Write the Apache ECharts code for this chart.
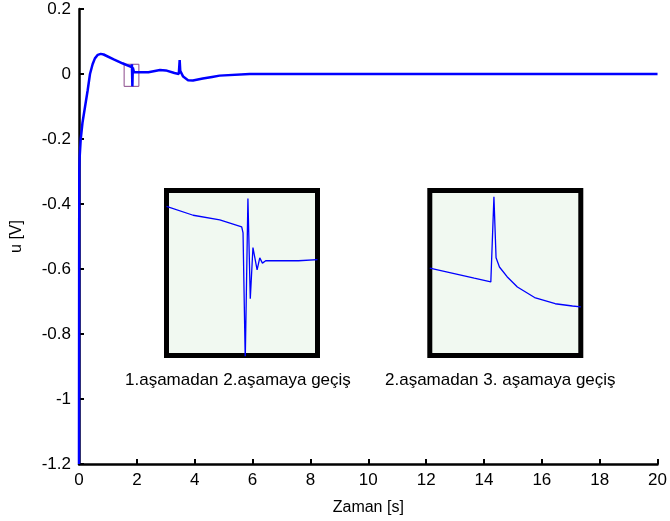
<!DOCTYPE html>
<html>
<head>
<meta charset="utf-8">
<script src="https://cdn.jsdelivr.net/npm/echarts@6/dist/echarts.min.js"></script>
<style>
  html, body { margin: 0; padding: 0; background: #fff; }
  #chart { width: 670px; height: 521px; }
</style>
</head>
<body>
<div id="chart"></div>
<script>
// Control signal u(t) over the whole run: [time s, voltage V]
const mainSignal = [
  [0, -1.2], [0.005, -0.6], [0.01, -0.3], [0.02, -0.26], [0.06, -0.2], [0.12, -0.15],
  [0.21, -0.1], [0.3, -0.05], [0.38, 0.0], [0.47, 0.03], [0.55, 0.048], [0.65, 0.059],
  [0.75, 0.062], [0.85, 0.06], [1.2, 0.045], [1.5, 0.033], [1.82, 0.021],
  [1.83, 0.03], [1.845, -0.038], [1.86, 0.02], [1.9, 0.006], [2.0, 0.0055],
  [2.4, 0.0055], [2.8, 0.012], [3.0, 0.011], [3.3, 0.003], [3.45, 0.0],
  [3.48, 0.043], [3.5, 0.01], [3.6, -0.008], [3.77, -0.019], [3.94, -0.02],
  [4.28, -0.014], [4.6, -0.009], [4.86, -0.005], [4.9, -0.001], [5.9, 0.0],
  [6.0, 0.0], [20, 0.0]
];

// Zoom of the 1st -> 2nd stage switch (around t = 1.84 s)
const stage12Detail = [
  [1.56, 0.0313], [1.65, 0.0275], [1.74, 0.0255], [1.814, 0.0226], [1.8185, 0.020],
  [1.826, -0.034], [1.835, 0.0346], [1.843, -0.0079], [1.852, 0.0138],
  [1.866, 0.0043], [1.875, 0.0094], [1.884, 0.0072], [1.895, 0.0082],
  [2.006, 0.0082], [2.012, 0.0087], [2.07, 0.0087]
];
const stage12Range = { tMin: 1.56, tMax: 2.07, vMin: -0.032, vMax: 0.038 };

// Zoom of the 2nd -> 3rd stage switch (around t = 3.46 s)
const stage23Detail = [
  [3.1, 0.0124], [3.25, 0.0095], [3.35, 0.0075], [3.4435, 0.0057], [3.449, 0.0060],
  [3.461, 0.0469], [3.473, 0.0174], [3.492, 0.0129], [3.535, 0.0082],
  [3.593, 0.0032], [3.69, -0.0019], [3.806, -0.0049], [3.903, -0.006], [3.95, -0.0064]
];
const stage23Range = { tMin: 3.1, tMax: 3.95, vMin: -0.03, vMax: 0.05 };

// Region of the main trace that the first detail view enlarges
const detailBox = [[1.56, 0.03], [2.07, -0.038]];

const insetCaptions = ['1.aşamadan 2.aşamaya geçiş', '2.aşamadan 3. aşamaya geçiş'];
const axisTitles = { x: 'Zaman [s]', y: 'u [V]' };

const FONT = 'Liberation Sans, Arial, sans-serif';
const chart = echarts.init(document.getElementById('chart'), null, { renderer: 'canvas' });

const insetGrid = (left, top) => ({
  left: left, top: top, width: 151, height: 165,
  show: true, backgroundColor: '#f1f9f1', borderColor: '#000', borderWidth: 5
});
const hiddenAxis = (gridIndex, min, max) => ({
  gridIndex: gridIndex, type: 'value', min: min, max: max, show: false,
  splitLine: { show: false }
});

chart.setOption({
  animation: false,
  backgroundColor: '#fff',
  grid: [
    { left: 79, right: 11, top: 9, bottom: 56 },
    insetGrid(166.5, 190.5),
    insetGrid(429.8, 190.5)
  ],
  xAxis: [
    {
      gridIndex: 0, type: 'value', min: 0, max: 20, interval: 2,
      name: axisTitles.x, nameLocation: 'middle', nameGap: 36,
      nameTextStyle: { color: '#000', fontSize: 16, fontFamily: FONT },
      axisLine: { onZero: false, lineStyle: { color: '#000', width: 2.5 } },
      axisTick: { inside: true, length: 5, lineStyle: { color: '#000', width: 2 } },
      axisLabel: { color: '#000', fontSize: 17, fontFamily: FONT, margin: 8 },
      splitLine: { show: false }
    },
    hiddenAxis(1, stage12Range.tMin, stage12Range.tMax),
    hiddenAxis(2, stage23Range.tMin, stage23Range.tMax)
  ],
  yAxis: [
    {
      gridIndex: 0, type: 'value', min: -1.2, max: 0.2, interval: 0.2,
      name: axisTitles.y, nameLocation: 'middle', nameGap: 54, nameRotate: 90,
      nameTextStyle: { color: '#000', fontSize: 16, fontFamily: FONT },
      axisLine: { onZero: false, lineStyle: { color: '#000', width: 2.5 } },
      axisTick: { inside: true, length: 5, lineStyle: { color: '#000', width: 2 } },
      axisLabel: {
        color: '#000', fontSize: 17, fontFamily: FONT, margin: 8,
        formatter: v => String(Number(v.toFixed(1)))
      },
      splitLine: { show: false }
    },
    hiddenAxis(1, stage12Range.vMin, stage12Range.vMax),
    hiddenAxis(2, stage23Range.vMin, stage23Range.vMax)
  ],
  series: [
    {
      type: 'line', xAxisIndex: 0, yAxisIndex: 0, data: mainSignal,
      showSymbol: false, smooth: false,
      lineStyle: { color: '#0000ff', width: 2.5 },
      markArea: {
        silent: true,
        itemStyle: { color: 'rgba(0,0,0,0)', borderColor: '#8b4a8b', borderWidth: 1 },
        data: [[{ coord: detailBox[0] }, { coord: detailBox[1] }]]
      }
    },
    {
      type: 'line', xAxisIndex: 1, yAxisIndex: 1, data: stage12Detail,
      showSymbol: false, clip: true,
      lineStyle: { color: '#0000ff', width: 1.3 }
    },
    {
      type: 'line', xAxisIndex: 2, yAxisIndex: 2, data: stage23Detail,
      showSymbol: false, clip: true,
      lineStyle: { color: '#0000ff', width: 1.3 }
    }
  ],
  graphic: [
    {
      type: 'text', left: 125, top: 372,
      style: { text: insetCaptions[0], fill: '#000', font: '17px ' + FONT }
    },
    {
      type: 'text', left: 385, top: 372,
      style: { text: insetCaptions[1], fill: '#000', font: '17px ' + FONT }
    }
  ]
});
</script>
</body>
</html>
